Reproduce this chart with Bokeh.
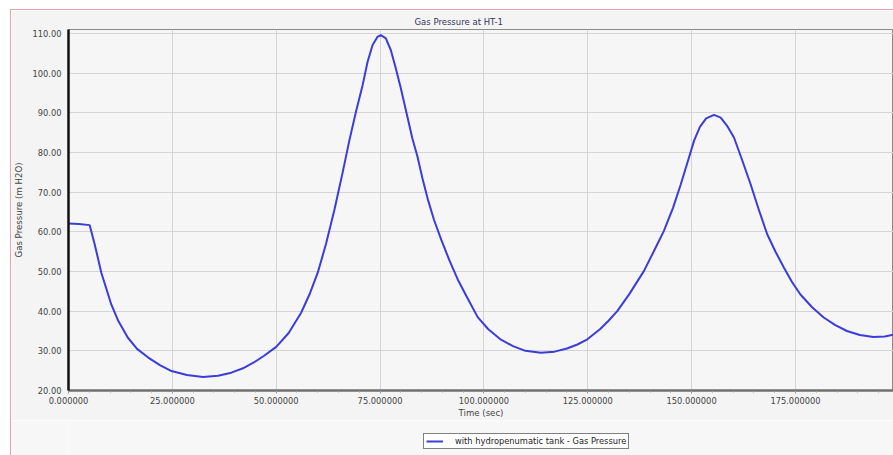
from bokeh.plotting import figure
from bokeh.layouts import column
from bokeh.models import Range1d, NumeralTickFormatter, PrintfTickFormatter, FixedTicker, Legend, LegendItem
from bokeh.embed import file_html
from bokeh.resources import INLINE

time_sec = [0, 2.5, 5.1, 6.3, 7.9, 10.3, 12, 14.3, 16.5, 19.2, 22, 24.8, 28.5, 32.4, 36, 39.2,
            42, 44.5, 47, 50, 53, 56, 58, 60, 62, 64, 66, 67.6, 69.2, 70.8, 72, 73.2, 74.4,
            75.2, 76.4, 77.6, 78.8, 80, 81.3, 82.8, 84, 85.2, 86.5, 88, 89.7, 91.7, 93.7, 96,
            98.5, 101, 104.1, 107, 110, 113.7, 117, 120, 122.5, 124.9, 128, 130, 132.1, 135,
            138.5, 141, 143.3, 145.5, 147.4, 149, 150.6, 152, 153.5, 155.4, 157, 158.5, 160.2,
            162.2, 164.2, 166.2, 168.2, 170.2, 172.2, 174.2, 176.2, 179, 181.8, 184.6, 187.4,
            190.5, 193.8, 196.5, 198.6]
gas_pressure = [62.1, 62.0, 61.7, 56.9, 49.7, 41.7, 37.5, 33.3, 30.5, 28.3, 26.4, 24.9, 23.9, 23.4,
                23.7, 24.5, 25.6, 27.0, 28.7, 31.0, 34.5, 39.6, 44.2, 49.7, 57.0, 65.5, 75.0, 83.0,
                90.3, 97.0, 102.9, 107.1, 109.2, 109.6, 108.8, 105.8, 101.2, 96.2, 90.3, 83.5, 79.0,
                73.5, 68.2, 63.0, 58.1, 52.8, 48.0, 43.4, 38.5, 35.5, 32.8, 31.2, 30.0, 29.5, 29.8,
                30.6, 31.6, 32.9, 35.5, 37.6, 40.0, 44.3, 50.1, 55.3, 60.2, 66.0, 72.0, 77.5, 83.0,
                86.5, 88.6, 89.5, 88.8, 86.8, 83.8, 78.0, 72.0, 65.5, 59.4, 55.0, 51.0, 47.3, 44.2,
                41.0, 38.4, 36.5, 35.0, 34.0, 33.5, 33.6, 34.1]
x_ticks = [0, 25, 50, 75, 100, 125, 150, 175]
y_ticks = [20, 30, 40, 50, 60, 70, 80, 90, 100, 110]
title_text = "Gas Pressure at HT-1"
x_label = "Time (sec)"
y_label = "Gas Pressure (m H2O)"
series_label = "with hydropenumatic tank - Gas Pressure"

FONT = "DejaVu Sans"
LINE_COLOR = "#3c3cdc"
BORDER_BG = "#f4f4f4"

p = figure(width=882, height=410, output_backend="svg", toolbar_location=None,
           x_range=Range1d(0, 198.6), y_range=Range1d(20, 111.03),
           min_border_left=56, min_border_right=0, min_border_top=19, min_border_bottom=30)

p.title.text = title_text
p.title.align = "left"
p.title.text_font = FONT
p.title.text_font_size = "8.5px"
p.title.text_font_style = "normal"
p.title.text_color = "#34345a"
p.title.offset = 346
p.title.standoff = 6

p.background_fill_color = "#f6f6f6"
p.border_fill_color = BORDER_BG
p.outline_line_color = "#8a8a8a"
p.outline_line_width = 1

r = p.line(time_sec, gas_pressure, line_color=LINE_COLOR, line_width=2, line_join="round")

p.xaxis.ticker = FixedTicker(ticks=x_ticks, minor_ticks=[t + d for t in x_ticks for d in (5, 10, 15, 20)])
p.yaxis.ticker = FixedTicker(ticks=y_ticks)
p.xaxis.formatter = PrintfTickFormatter(format="%.6f")
p.yaxis.formatter = NumeralTickFormatter(format="0.00")

for ax in (p.xaxis, p.yaxis):
    ax.major_label_text_font = FONT
    ax.major_label_text_font_size = "8.3px"
    ax.major_label_text_color = "#444444"
    ax.axis_label_text_font = FONT
    ax.axis_label_text_font_size = "8.6px"
    ax.axis_label_text_font_style = "normal"
    ax.axis_label_text_color = "#444444"

p.xaxis.axis_label = x_label
p.yaxis.axis_label = y_label
p.xaxis.axis_line_color = "#707070"
p.xaxis.axis_line_width = 2.5
p.xaxis.major_tick_line_color = "#999999"
p.xaxis.minor_tick_line_color = "#999999"
p.xaxis.major_tick_out = 3
p.xaxis.major_tick_in = 0
p.xaxis.minor_tick_out = 2
p.xaxis.minor_tick_in = 0
p.xaxis.major_label_standoff = 3
p.xaxis.axis_label_standoff = 1

p.yaxis.axis_line_color = "#111111"
p.yaxis.axis_line_width = 2.5
p.yaxis.major_tick_out = 0
p.yaxis.major_tick_in = 0
p.yaxis.minor_tick_line_color = None
p.yaxis.major_label_standoff = 7
p.yaxis.axis_label_standoff = 5

p.xgrid.grid_line_color = "#d4d4d4"
p.ygrid.grid_line_color = "#d4d4d4"
p.xgrid.grid_line_width = 1
p.ygrid.grid_line_width = 1

# strip below the chart that carries the legend
lf = figure(width=882, height=35, output_backend="svg", toolbar_location=None,
            x_range=Range1d(0, 1), y_range=Range1d(0, 1),
            min_border=0, x_axis_type=None, y_axis_type=None)
lf.xgrid.visible = False
lf.ygrid.visible = False
lf.outline_line_color = None
lf.background_fill_color = "#f7f7f7"
lf.border_fill_color = "#f7f7f7"
# same series, entirely outside this strip's ranges: only its legend swatch shows
lr = lf.line(time_sec, gas_pressure, line_color=LINE_COLOR, line_width=2)

legend = Legend(items=[LegendItem(label=series_label, renderers=[lr])],
                location=(355, 6), orientation="horizontal")
legend.label_text_font = FONT
legend.label_text_font_size = "8.3px"
legend.label_text_color = "#222222"
legend.border_line_color = "#000000"
legend.border_line_width = 1.5
legend.background_fill_color = "#ffffff"
legend.background_fill_alpha = 1.0
legend.glyph_width = 17
legend.glyph_height = 8
legend.label_height = 9
legend.padding = 2
legend.spacing = 0
legend.margin = 0
legend.label_standoff = 12
legend.label_text_baseline = "middle"
lf.add_layout(legend, "center")

layout = column(p, lf, spacing=0, margin=(9, 0, 0, 10),
                styles={"border-left": "1px solid #e6a4ac", "border-top": "1px solid #e6a4ac"})
open("out.html", "w").write(file_html(layout, INLINE))
